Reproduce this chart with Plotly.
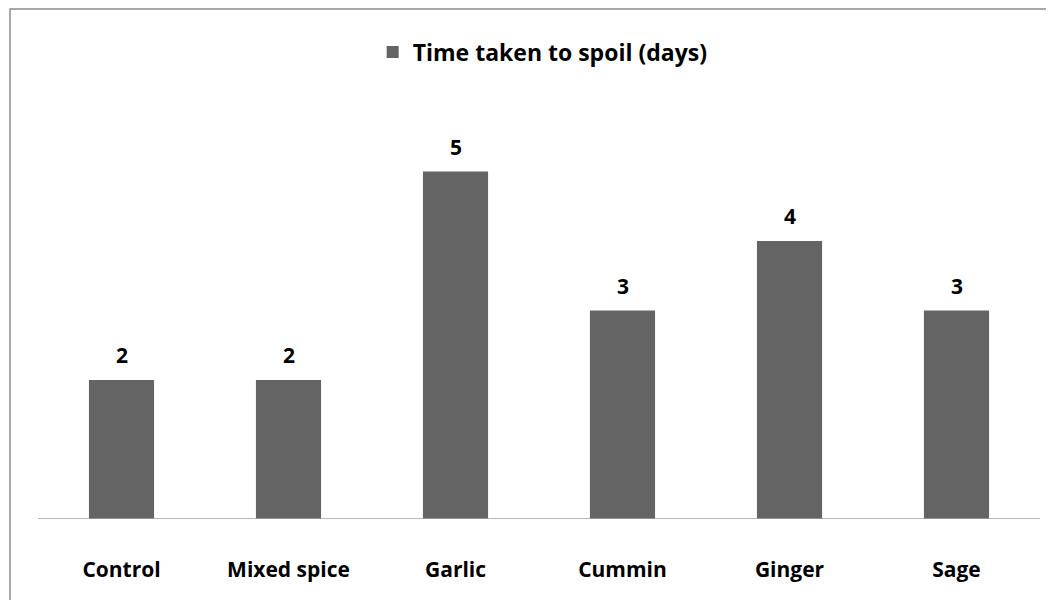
import plotly.graph_objects as go

categories = ["Control", "Mixed spice", "Garlic", "Cummin", "Ginger", "Sage"]
days = [2, 2, 5, 3, 4, 3]
series_name = "Time taken to spoil (days)"

FONT = "Open Sans"
BAR = "#646464"
FS = 21

# page body has an 8px default margin; figure offset to compensate
fig = go.Figure()
fig.add_trace(go.Bar(
    x=categories, y=days, name=series_name,
    marker=dict(color=BAR, line=dict(width=0)),
    width=0.39,
))

for c, v in zip(categories, days):
    fig.add_annotation(x=c, y=v, text=str(v), showarrow=False,
                       yanchor="bottom", yshift=9,
                       font=dict(family=FONT, size=FS, color="#000000", weight="bold"))

fig.update_layout(
    width=1054, height=592,
    margin=dict(l=30, r=22, t=94, b=81),
    paper_bgcolor="white", plot_bgcolor="white",
    showlegend=True,
    legend=dict(orientation="h", x=0.334, xanchor="left", y=1.12, yanchor="middle",
                font=dict(family=FONT, size=23, color="#000000", weight="bold"),
                bgcolor="rgba(0,0,0,0)"),
    xaxis=dict(showline=False, showgrid=False, ticks="",
               tickfont=dict(family=FONT, size=FS, color="#000000", weight="bold"),
               ticklabelstandoff=36),
    yaxis=dict(range=[0, 6], visible=False, showgrid=False, zeroline=False),
    shapes=[
        dict(type="line", xref="paper", yref="y", x0=0, x1=1, y0=0, y1=0,
             line=dict(color="#a0a0a0", width=1.5)),
        dict(type="rect", xref="paper", yref="paper",
             x0=(2 - 30) / 1002, x1=(1060 - 30) / 1002,
             y0=(511 - 596) / 417, y1=1 + (94 - 1) / 417,
             line=dict(color="#8c8c8c", width=1.5), fillcolor="rgba(0,0,0,0)", layer="below"),
    ],
)

fig.write_html("out.html")
